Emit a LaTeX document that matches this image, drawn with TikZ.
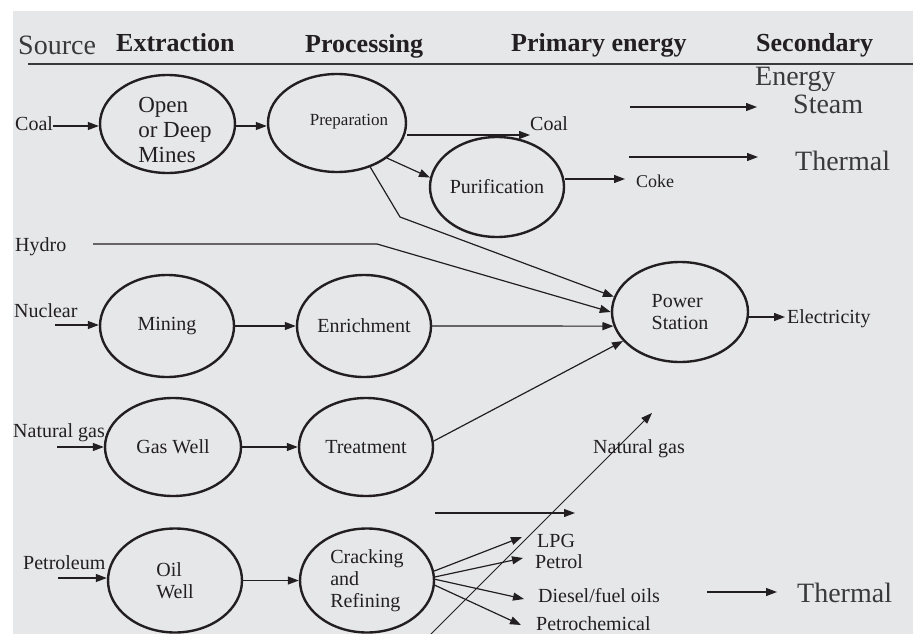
\documentclass[tikz,border=0pt]{standalone}
\usepackage{fontspec}
\setmainfont{Liberation Serif}
\usetikzlibrary{shapes.geometric,arrows.meta}
\definecolor{bg}{HTML}{E6E7E9}
\definecolor{ink}{HTML}{231F20}
\definecolor{soft}{HTML}{3A3A3C}
\begin{document}
\begin{tikzpicture}[x=1pt,y=-1pt,
  oval/.style={ellipse, draw=ink, line width=2.4pt, inner sep=0pt, text=ink,
    font=\fontsize{20}{22}\selectfont, align=left},
  lab/.style={text=ink, inner sep=0pt, font=\fontsize{20}{22}\selectfont, anchor=base west},
  big/.style={text=soft, inner sep=0pt, font=\fontsize{28}{30}\selectfont, anchor=base west},
  head/.style={text=ink, inner sep=0pt, font=\fontsize{26}{28}\selectfont\bfseries, anchor=base west},
  conn/.style={draw=ink, line width=1.2pt},
  arr/.style={conn, -{Triangle[length=11pt,width=8pt]}},
]
\fill[white] (0,0) rectangle (913,634);
\fill[bg] (13,11) rectangle (913,634);
\useasboundingbox (0,0) rectangle (913,634);

% headers
\node[big] (hSource) at (18,55) {Source};
\node[head] (hExtr) at (116,52) {Extraction};
\node[head] (hProc) at (305,53) {Processing};
\node[head] (hPrim) at (511,52) {Primary energy};
\node[head] (hSec) at (756,52) {Secondary};
\draw[line width=1.1pt, draw=soft] (28,64) -- (913,64);
\node[big] (hEnergy) at (755,85) {Energy};

% secondary energy
\node[big] (steam) at (793,113) {Steam};
\coordinate (st1) at (630,107); \coordinate (st2) at (757,107);
\draw[arr] (st1) -- (st2);
\node[big] (therm1) at (795,170) {Thermal};
\coordinate (th1) at (629,157); \coordinate (th2) at (758,157);
\draw[arr] (th1) -- (th2);

% ellipses
\node[oval, minimum width=135pt, minimum height=98pt] (mines) at (167.5,124) {};
\node[text=ink, inner sep=0pt, font=\fontsize{23}{25}\selectfont, align=left] (minesT) at (175,130) {Open\\or Deep\\Mines};
\node[oval, minimum width=138pt, minimum height=98pt] (prep) at (337,123) {};
\node[text=ink, inner sep=0pt, font=\fontsize{17}{19}\selectfont] (prepT) at (349,122) {Preparation};
\node[oval, minimum width=134pt, minimum height=100pt] (puri) at (497,187) {Purification};
\node[oval, minimum width=136pt, minimum height=100pt] (power) at (680,312) {Power\\Station};
\node[oval, minimum width=134pt, minimum height=102pt] (mining) at (167,326) {Mining};
\node[oval, minimum width=134pt, minimum height=102pt] (enrich) at (364,326) {Enrichment};
\node[oval, minimum width=136pt, minimum height=98pt] (gaswell) at (173,447) {Gas Well};
\node[oval, minimum width=134pt, minimum height=98pt] (treat) at (366,447) {Treatment};
\node[oval, minimum width=134pt, minimum height=104pt] (oilwell) at (175,580.5) {Oil\\Well};
\node[oval, minimum width=134pt, minimum height=104pt] (crack) at (367,580.5) {Cracking\\and\\Refining};

% coal row
\node[lab] (coalL) at (15,130) {Coal};
\coordinate (coalA) at (53,126);
\draw[arr] (coalA) -- (coalA -| mines.west);
\coordinate (mpA) at (236,126);
\draw[arr] (mpA -| mines.east) -- (mpA -| prep.west);
\node[lab] (coalP) at (530,130) {Coal};
\coordinate (coalTip) at (530,135);
\draw[arr] (coalTip -| prep.east) -- (coalTip);
\draw[arr] (prep.-35) -- (puri.172);
\node[lab, font=\fontsize{18}{20}\selectfont] (coke) at (636,187) {Coke};
\coordinate (cokeTip) at (625,179);
\draw[arr] (cokeTip -| puri.east) -- (cokeTip);
\coordinate (bend1) at (400,217);
\draw[arr] (prep.-53) -- (bend1) -- (power.167);

% hydro
\node[lab] (hydro) at (15,251) {Hydro};
\coordinate (hy1) at (93,244); \coordinate (hy2) at (377,244);
\draw[arr] (hy1) -- (hy2) -- (power.180);

% nuclear
\node[lab] (nuc) at (14,317) {Nuclear};
\coordinate (nucA) at (55,325);
\draw[arr] (nucA) -- (nucA -| mining.west);
\draw[arr] (mining.east) -- (enrich.west);
\draw[arr] (enrich.east) -- (power.192);

% electricity
\node[lab] (elec) at (787,323) {Electricity};
\coordinate (elecA) at (785,317);
\draw[arr] (elecA -| power.east) -- (elecA);

% natural gas
\node[lab] (ngL) at (13,437) {Natural gas};
\coordinate (ngA) at (57,447);
\draw[arr] (ngA) -- (ngA -| gaswell.west);
\draw[arr] (gaswell.east) -- (treat.west);
\draw[arr] (treat.5) -- (power.207);
\node[lab] (ngP) at (593,453) {Natural gas};
\coordinate (ar1) at (435,513); \coordinate (ar2) at (575,513);
\draw[arr] (ar1) -- (ar2);
\coordinate (dg1) at (430,635); \coordinate (dg2) at (652,413);
\draw[draw=ink, line width=0.8pt, -{Triangle[length=11pt,width=8pt]}] (dg1) -- (dg2);

% petroleum
\node[lab] (petL) at (23,569) {Petroleum};
\coordinate (petA) at (58,578);
\draw[arr] (petA) -- (petA -| oilwell.west);
\draw[arr] (oilwell.east) -- (crack.west);

\node[lab] (lpg) at (537,547) {LPG};
\node[lab] (petrol) at (535,568) {Petrol};
\node[lab] (diesel) at (538,602) {Diesel/fuel oils};
\node[lab] (petchem) at (536,630) {Petrochemical};
\coordinate (fLPG) at (522,537);
\coordinate (fPet) at (523,558);
\coordinate (fDie) at (524,599);
\coordinate (fChem) at (521,625);
\draw[arr] (crack.8) -- (fLPG);
\draw[arr] (crack.3) -- (fPet);
\draw[arr] (crack.1) -- (fDie);
\draw[arr] (crack.-4) -- (fChem);

\node[big] (therm2) at (797,602) {Thermal};
\coordinate (tb1) at (707,592); \coordinate (tb2) at (777,592);
\draw[arr] (tb1) -- (tb2);
\end{tikzpicture}
\end{document}
